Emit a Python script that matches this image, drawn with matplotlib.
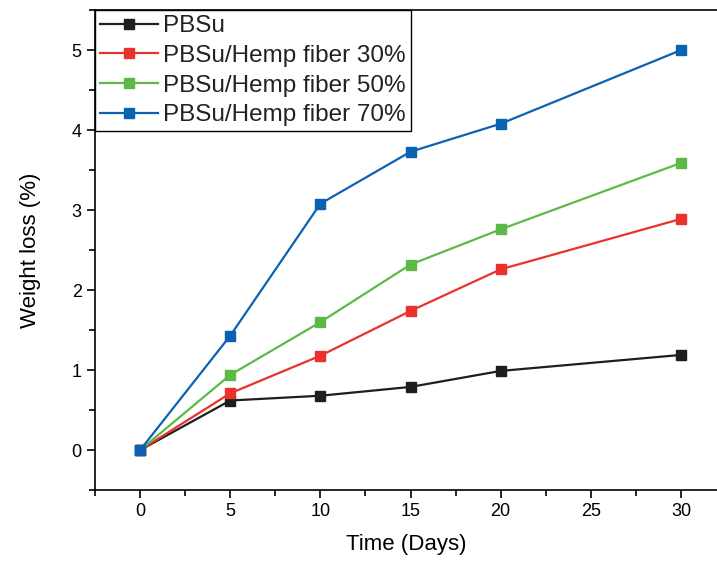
import matplotlib.pyplot as plt
from matplotlib.ticker import MultipleLocator

plt.rcParams['font.family'] = ['Liberation Sans', 'DejaVu Sans']

days = [0, 5, 10, 15, 20, 30]
pbsu = [0, 0.62, 0.68, 0.79, 0.99, 1.19]
hemp30 = [0, 0.71, 1.18, 1.74, 2.26, 2.89]
hemp50 = [0, 0.94, 1.60, 2.32, 2.76, 3.59]
hemp70 = [0, 1.43, 3.08, 3.73, 4.08, 5.00]
labels = ['PBSu', 'PBSu/Hemp fiber 30%', 'PBSu/Hemp fiber 50%', 'PBSu/Hemp fiber 70%']
colors = ['#1e1e1e', '#e8322b', '#5cb947', '#0a62b3']

fig = plt.figure(figsize=(7.17, 5.64), dpi=100)
ax = fig.add_axes([0.1325, 0.131, 0.8675, 0.851])

for y, lab, c in zip([pbsu, hemp30, hemp50, hemp70], labels, colors):
    ax.plot(days, y, color=c, lw=1.6, marker='s', markersize=7.5, label=lab)

ax.set_xlim(-2.5, 32.0)
ax.set_ylim(-0.5, 5.5)
ax.xaxis.set_major_locator(MultipleLocator(5))
ax.xaxis.set_minor_locator(MultipleLocator(2.5))
ax.yaxis.set_major_locator(MultipleLocator(1))
ax.yaxis.set_minor_locator(MultipleLocator(0.5))
ax.tick_params(which='major', direction='out', length=6, width=1.2, labelsize=13)
ax.tick_params(which='minor', direction='out', length=4, width=1.2)
for s in ax.spines.values():
    s.set_linewidth(1.2)
ax.spines['right'].set_visible(False)

ax.set_xlabel('Time (Days)', fontsize=16, labelpad=10)
ax.set_ylabel('Weight loss (%)', fontsize=16, labelpad=22)

leg = ax.legend(loc='upper left', borderaxespad=0, fancybox=False, framealpha=1,
                edgecolor='black', fontsize=17.5, handlelength=2.4, handletextpad=0.2,
                labelspacing=0.32, borderpad=0.2)
leg.get_frame().set_linewidth(1.0)
for t in leg.get_texts():
    t.set_color('#222222')

fig.savefig('out.png', dpi=100)
